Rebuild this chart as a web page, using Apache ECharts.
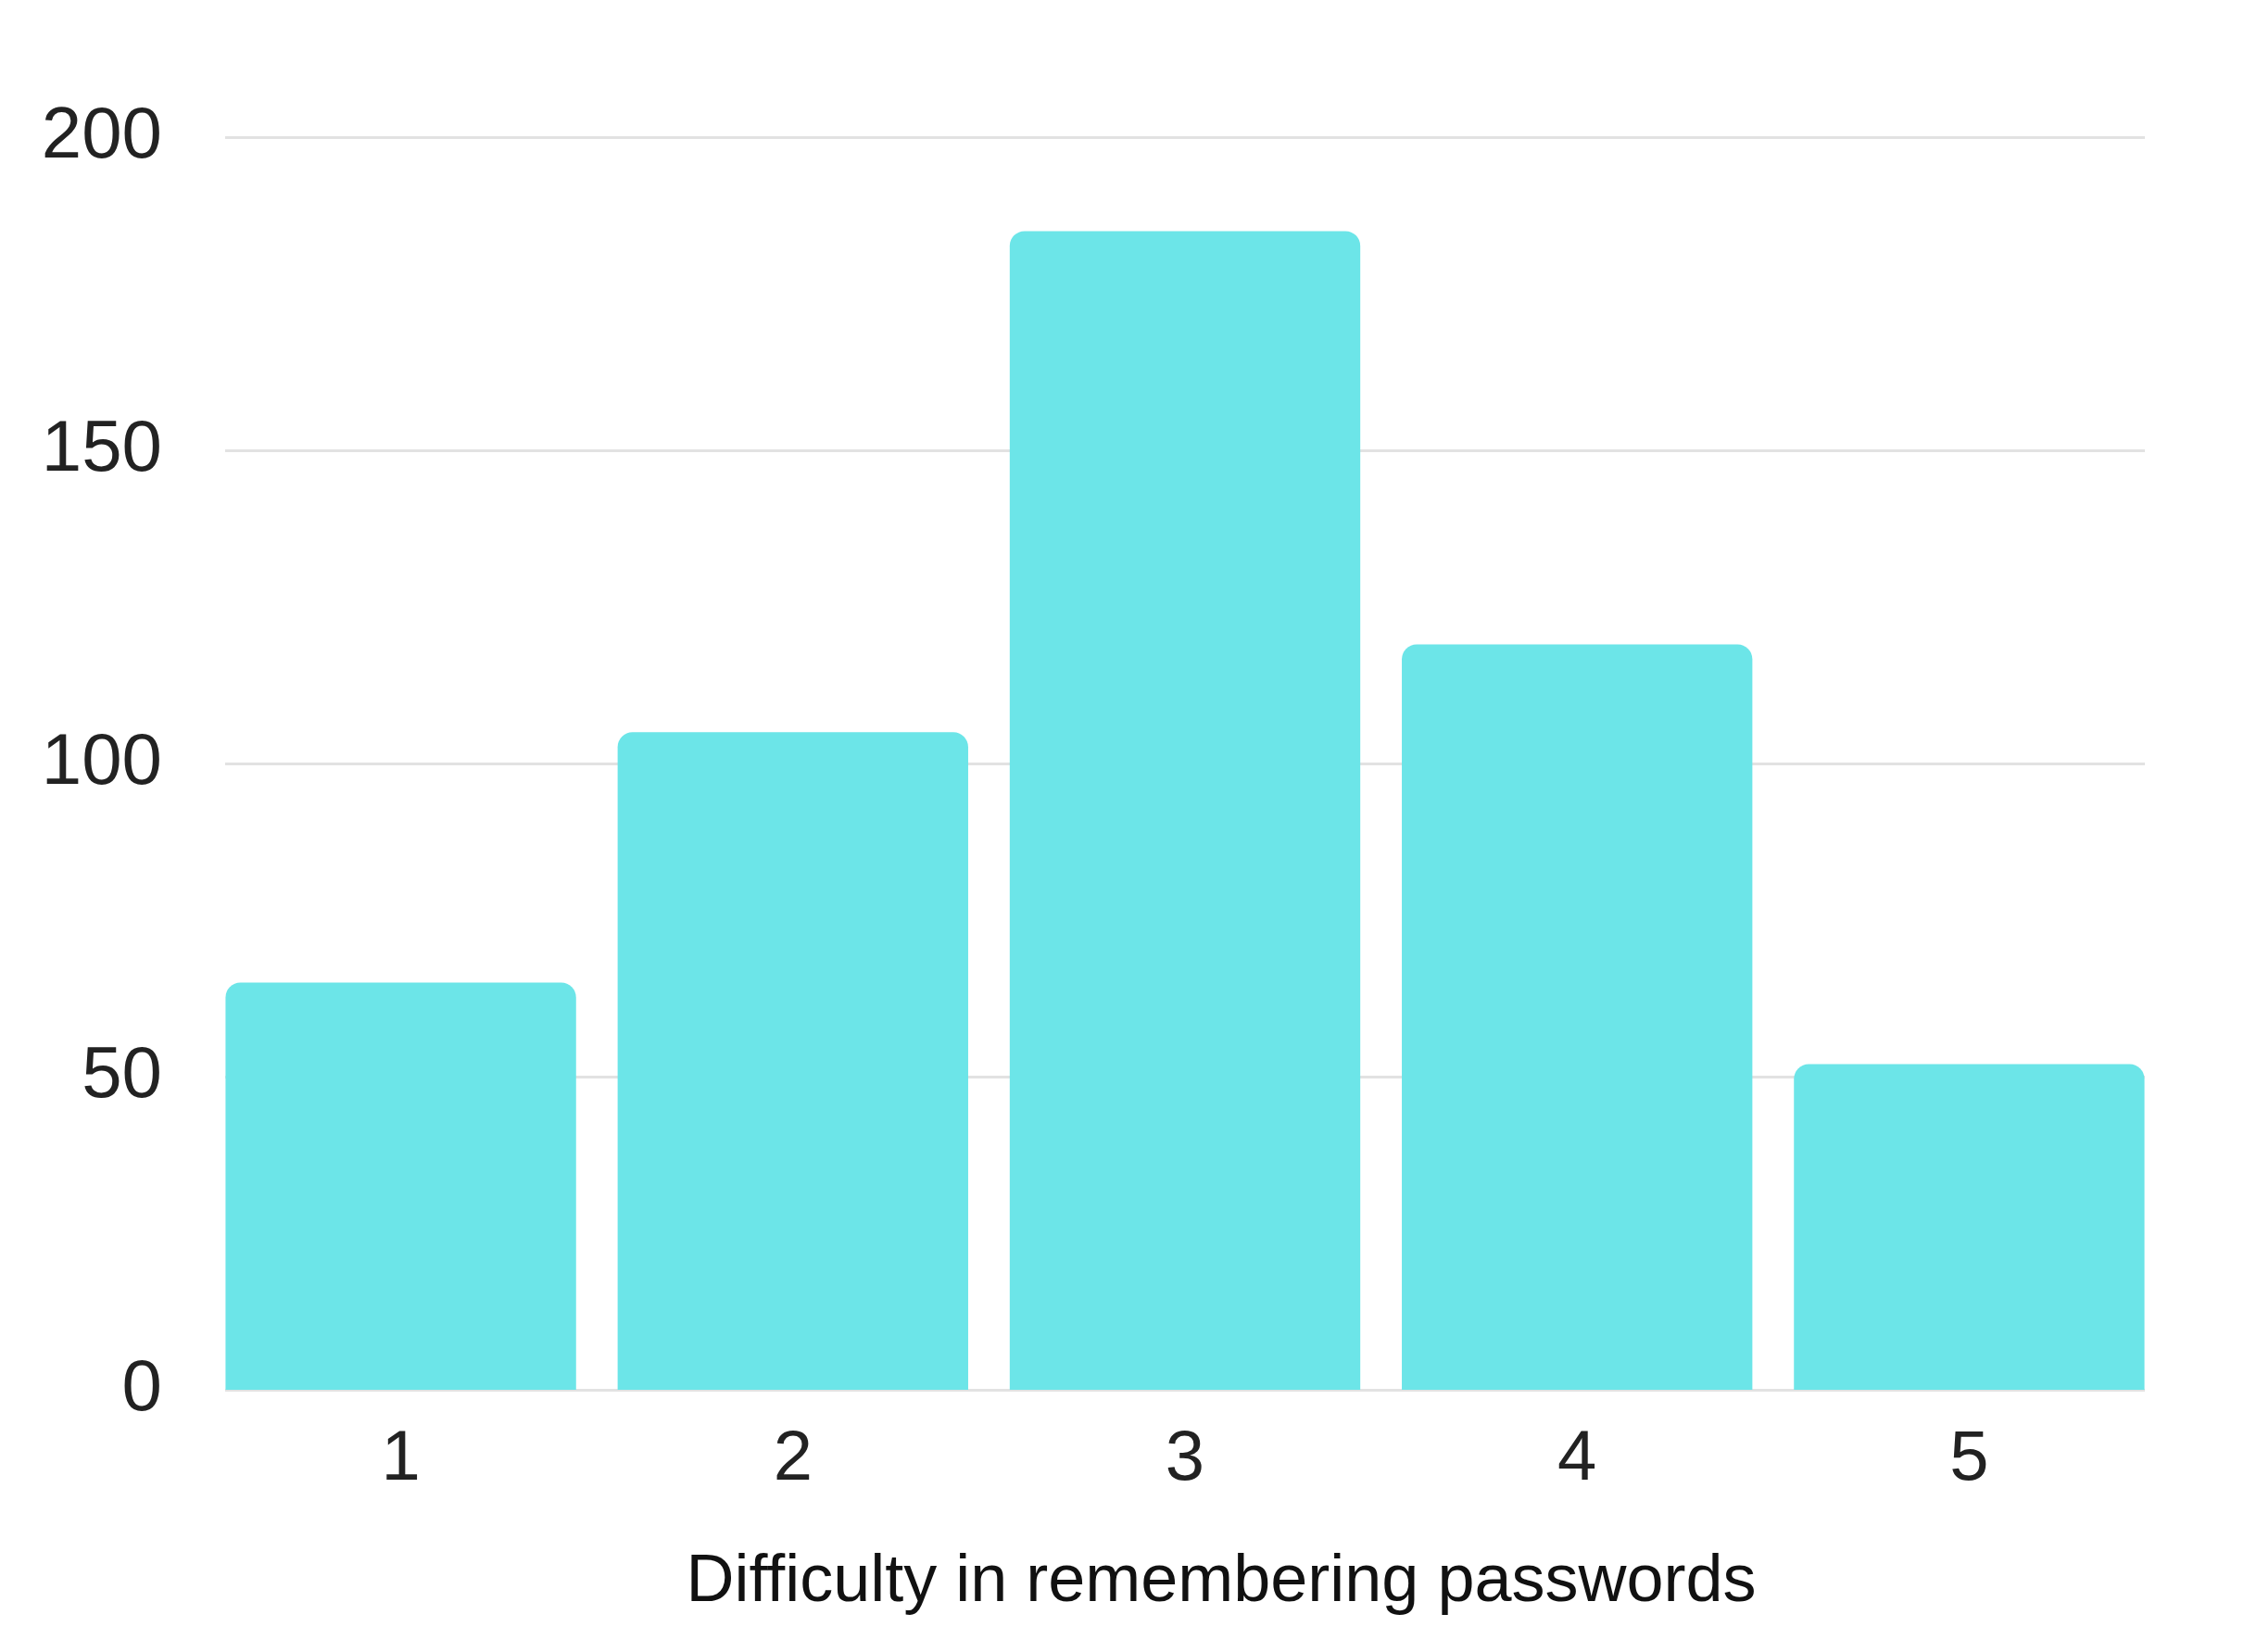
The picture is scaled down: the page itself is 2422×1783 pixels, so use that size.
<!DOCTYPE html>
<html>
<head>
<meta charset="utf-8">
<title>Difficulty in remembering passwords</title>
<script src="https://cdn.jsdelivr.net/npm/echarts@6/dist/echarts.min.js"></script>
<style>
  html, body { margin: 0; padding: 0; background: #ffffff; }
  #chart { width: 2422px; height: 1783px; }
</style>
</head>
<body>
<div id="chart"></div>
<script>
// data
const categories = ["1", "2", "3", "4", "5"];
const counts = [65, 105, 185, 119, 52];
const yTicks = [0, 50, 100, 150, 200];
const xTitle = "Difficulty in remembering passwords";

const yMin = yTicks[0];
const yMax = yTicks[yTicks.length - 1];
const font = "'Liberation Sans', Arial, sans-serif";

const chart = echarts.init(document.getElementById("chart"));

// grid 0 carries the y labels and grid lines, grid 1 (a little wider) the bars,
// so the outer bars sit flush with the ends of the grid lines
chart.setOption({
  animation: false,
  backgroundColor: "#ffffff",
  textStyle: { fontFamily: font },
  grid: [
    { left: 243, right: 107, top: 148, bottom: 283 },
    { left: 221, right: 85, top: 148, bottom: 283 },
  ],
  xAxis: [
    {
      gridIndex: 0,
      type: "category",
      data: categories,
      show: false,
    },
    {
      gridIndex: 1,
      type: "category",
      data: categories,
      name: xTitle,
      nameLocation: "middle",
      nameGap: 172,
      nameTextStyle: { fontFamily: font, fontSize: 72, color: "#111111", padding: [0, 0, 0, 78] },
      axisLine: { show: false },
      axisTick: { show: false },
      axisLabel: { fontFamily: font, fontSize: 76, color: "#222222", margin: 38 },
    },
  ],
  yAxis: [
    {
      gridIndex: 0,
      type: "value",
      min: yMin,
      max: yMax,
      interval: yTicks[1] - yTicks[0],
      axisLine: { show: false },
      axisTick: { show: false },
      axisLabel: { fontFamily: font, fontSize: 78, color: "#222222", margin: 68 },
      splitLine: { lineStyle: { color: "#e2e2e2", width: 3 } },
    },
    {
      gridIndex: 1,
      type: "value",
      min: yMin,
      max: yMax,
      show: false,
      splitLine: { show: false },
    },
  ],
  series: [
    {
      type: "bar",
      xAxisIndex: 1,
      yAxisIndex: 1,
      data: counts,
      barCategoryGap: "10.6%",
      itemStyle: { color: "#6ce5e8", borderRadius: [16, 16, 0, 0] },
    },
  ],
});
</script>
</body>
</html>
